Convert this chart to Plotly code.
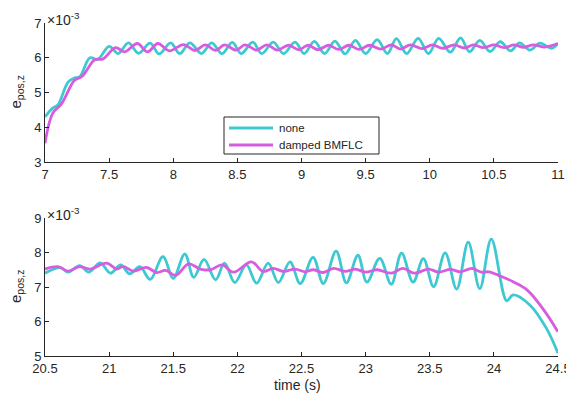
import plotly.graph_objects as go
from plotly.subplots import make_subplots

# ---------------- data (values in units of 1e-3) ----------------
top_t_none = [7.00, 7.06, 7.10, 7.18, 7.23, 7.27, 7.35, 7.41, 7.50, 7.57,
              7.65, 7.73, 7.82, 7.89, 7.98, 8.05, 8.13, 8.22, 8.30, 8.38,
              8.46, 8.53, 8.62, 8.69, 8.78, 8.86, 8.95, 9.02, 9.10, 9.18,
              9.26, 9.34, 9.42, 9.50, 9.59, 9.67, 9.74, 9.82, 9.91, 9.99,
              10.07, 10.16, 10.24, 10.31, 10.39, 10.47, 10.55, 10.63, 10.70, 10.78,
              10.86, 10.95, 11.00]
top_v_none = [4.30, 4.55, 4.64, 5.30, 5.42, 5.45, 6.00, 5.95, 6.33, 6.12,
              6.43, 6.13, 6.42, 6.11, 6.43, 6.12, 6.43, 6.12, 6.43, 6.12,
              6.44, 6.12, 6.45, 6.12, 6.45, 6.12, 6.45, 6.12, 6.47, 6.12,
              6.48, 6.11, 6.50, 6.12, 6.52, 6.12, 6.55, 6.12, 6.56, 6.12,
              6.56, 6.16, 6.57, 6.17, 6.50, 6.18, 6.46, 6.20, 6.43, 6.22,
              6.42, 6.27, 6.41]

top_t_damped = [7.00, 7.06, 7.13, 7.23, 7.29, 7.39, 7.45, 7.55, 7.62, 7.72,
                7.80, 7.88, 7.97, 8.08, 8.17, 8.25, 8.33, 8.40, 8.49, 8.56,
                8.65, 8.73, 8.81, 8.90, 8.98, 9.05, 9.13, 9.21, 9.29, 9.37,
                9.45, 9.53, 9.62, 9.70, 9.77, 9.85, 9.94, 10.02, 10.10, 10.19,
                10.27, 10.34, 10.42, 10.50, 10.58, 10.66, 10.73, 10.81, 10.89, 11.00]
top_v_damped = [3.54, 4.40, 4.68, 5.35, 5.47, 5.95, 5.96, 6.29, 6.17, 6.41,
                6.17, 6.41, 6.20, 6.38, 6.21, 6.37, 6.21, 6.37, 6.22, 6.37,
                6.22, 6.37, 6.22, 6.36, 6.23, 6.36, 6.23, 6.36, 6.24, 6.36,
                6.24, 6.36, 6.25, 6.37, 6.25, 6.37, 6.26, 6.37, 6.27, 6.37,
                6.28, 6.37, 6.29, 6.37, 6.29, 6.37, 6.30, 6.37, 6.31, 6.41]

bot_t_none = [20.50, 20.62, 20.68, 20.77, 20.84, 20.93, 21.01, 21.09, 21.16, 21.24,
              21.32, 21.42, 21.50, 21.59, 21.66, 21.74, 21.83, 21.90, 21.98, 22.07,
              22.15, 22.24, 22.32, 22.41, 22.49, 22.59, 22.67, 22.77, 22.85, 22.94,
              23.01, 23.11, 23.20, 23.28, 23.37, 23.45, 23.53, 23.62, 23.71, 23.80,
              23.89, 23.98, 24.10, 24.15, 24.28, 24.41, 24.50]
bot_v_none = [7.40, 7.56, 7.43, 7.62, 7.43, 7.70, 7.40, 7.64, 7.38, 7.59,
              7.22, 7.88, 7.25, 7.96, 7.28, 7.80, 7.21, 7.69, 7.13, 7.64,
              7.11, 7.69, 7.13, 7.73, 7.10, 7.86, 7.10, 8.04, 7.12, 7.92,
              7.14, 7.83, 7.08, 7.98, 7.14, 7.82, 7.01, 7.99, 6.94, 8.30,
              6.95, 8.39, 6.60, 6.77, 6.48, 5.80, 5.08]

bot_t_damped = [20.50, 20.60, 20.68, 20.77, 20.85, 20.98, 21.06, 21.11, 21.19, 21.29,
                21.37, 21.44, 21.52, 21.62, 21.71, 21.79, 21.88, 21.97, 22.11, 22.20,
                22.28, 22.36, 22.45, 22.53, 22.59, 22.67, 22.75, 22.84, 22.92, 23.00,
                23.09, 23.20, 23.29, 23.38, 23.49, 23.57, 23.66, 23.74, 23.83, 23.90,
                23.96, 24.05, 24.15, 24.26, 24.39, 24.50]
bot_v_damped = [7.52, 7.59, 7.46, 7.59, 7.52, 7.69, 7.52, 7.60, 7.46, 7.57,
                7.42, 7.48, 7.34, 7.67, 7.52, 7.50, 7.64, 7.43, 7.73, 7.45,
                7.54, 7.45, 7.52, 7.44, 7.50, 7.42, 7.54, 7.45, 7.52, 7.43,
                7.50, 7.40, 7.54, 7.40, 7.52, 7.43, 7.51, 7.44, 7.54, 7.43,
                7.44, 7.32, 7.15, 6.91, 6.33, 5.70]

series_names = ["none", "damped BMFLC"]
top_xticks = [7, 7.5, 8, 8.5, 9, 9.5, 10, 10.5, 11]
bot_xticks = [20.5, 21, 21.5, 22, 22.5, 23, 23.5, 24, 24.5]
top_yticks = [3, 4, 5, 6, 7]
bot_yticks = [5, 6, 7, 8, 9]

# ---------------- style ----------------
CYAN = "#3ec8d2"
MAGENTA = "#d65de0"
INK = "#262626"
FONT = "Liberation Sans, Arial, Helvetica, sans-serif"
LW = 2.8
COLORS = [CYAN, MAGENTA]

fig = make_subplots(rows=2, cols=1, vertical_spacing=0.0)

fig.add_trace(go.Scatter(x=top_t_none, y=top_v_none, mode="lines", name=series_names[0],
                         line=dict(color=CYAN, width=LW, shape="spline", smoothing=1.0)), row=1, col=1)
fig.add_trace(go.Scatter(x=top_t_damped, y=top_v_damped, mode="lines", name=series_names[1],
                         line=dict(color=MAGENTA, width=LW, shape="spline", smoothing=1.0)), row=1, col=1)
fig.add_trace(go.Scatter(x=bot_t_none, y=bot_v_none, mode="lines", name=series_names[0],
                         line=dict(color=CYAN, width=LW, shape="spline", smoothing=1.0)), row=2, col=1)
fig.add_trace(go.Scatter(x=bot_t_damped, y=bot_v_damped, mode="lines", name=series_names[1],
                         line=dict(color=MAGENTA, width=LW, shape="spline", smoothing=1.0)), row=2, col=1)

# page has an 8px body margin: the figure is drawn offset by (8, 8)
OFF = 8
W, H = 574 - OFF, 394 - OFF
AX_L, AX_R, AX_BOT_SCR = 45, 558, 356  # screen px of the axes frame
ML = AX_L - OFF
MR = W - (AX_R - OFF)
MT = 23 - OFF
MB = H - (AX_BOT_SCR - OFF)
plot_h = H - MT - MB


def px_x(p):
    return (p - AX_L) / (AX_R - AX_L)


def px_y(p):
    return (AX_BOT_SCR - p) / plot_h


top_lo = px_y(162)
bot_hi = px_y(218)

axis_common = dict(showline=True, linecolor=INK, linewidth=1, ticks="inside", ticklen=4,
                   tickcolor=INK, tickwidth=1, showgrid=False, zeroline=False, mirror=False,
                   automargin=False,
                   tickfont=dict(family=FONT, size=13, color=INK))

fig.update_xaxes(axis_common)
fig.update_yaxes(axis_common)
fig.update_xaxes(range=[7, 11], tickvals=top_xticks, ticktext=[f"{v:g}" for v in top_xticks], row=1, col=1)
fig.update_xaxes(range=[20.5, 24.5], tickvals=bot_xticks, ticktext=[f"{v:g}" for v in bot_xticks], row=2, col=1)
fig.update_yaxes(range=[3, 7], tickvals=top_yticks, domain=[top_lo, 1.0], row=1, col=1)
fig.update_yaxes(range=[5, 9], tickvals=bot_yticks, domain=[0.0, bot_hi], row=2, col=1)

ann = []
for ytop_scr in [8, 203]:
    ann.append(dict(text="×10<sup>-3</sup>", x=px_x(45), y=px_y(ytop_scr), xref="paper", yref="paper",
                    xanchor="left", yanchor="top", showarrow=False,
                    font=dict(family=FONT, size=14, color=INK)))
for yc in [px_y(92.5), px_y(287)]:
    ann.append(dict(text="e<sub>pos,z</sub>", x=px_x(16), y=yc, xref="paper", yref="paper",
                    xanchor="center", yanchor="middle", textangle=-90, showarrow=False,
                    font=dict(family=FONT, size=15, color=INK)))
ann.append(dict(text="time (s)", x=px_x(297), y=px_y(385), xref="paper", yref="paper",
                xanchor="center", yanchor="middle", showarrow=False,
                font=dict(family=FONT, size=14, color=INK)))

# legend box drawn in the MATLAB style (box, long line samples, labels)
LEG_L, LEG_R, LEG_T, LEG_B = 224, 379, 117, 154
LEG_ROWS = [128, 145]
box_edges = [((LEG_L, LEG_T), (LEG_R, LEG_T)), ((LEG_R, LEG_T), (LEG_R, LEG_B)),
             ((LEG_R, LEG_B), (LEG_L, LEG_B)), ((LEG_L, LEG_B), (LEG_L, LEG_T))]
shapes = []
for (ax0, ay0), (ax1, ay1) in box_edges:
    shapes.append(dict(type="line", xref="paper", yref="paper",
                       x0=px_x(ax0), x1=px_x(ax1), y0=px_y(ay0), y1=px_y(ay1),
                       line=dict(color=INK, width=1), layer="above"))
for name, color, ry in zip(series_names, COLORS, LEG_ROWS):
    shapes.append(dict(type="line", xref="paper", yref="paper",
                       x0=px_x(229), x1=px_x(273), y0=px_y(ry), y1=px_y(ry),
                       line=dict(color=color, width=LW), layer="above"))
    ann.append(dict(text=name, x=px_x(277), y=px_y(ry), xref="paper", yref="paper",
                    xanchor="left", yanchor="middle", showarrow=False,
                    font=dict(family=FONT, size=11.5, color=INK)))

fig.update_layout(
    template="none",
    autosize=False,
    width=W, height=H,
    margin=dict(l=ML, r=MR, t=MT, b=MB, pad=0, autoexpand=False),
    paper_bgcolor="white", plot_bgcolor="white",
    annotations=ann,
    shapes=shapes,
    showlegend=False,
)

fig.write_html("out.html")
